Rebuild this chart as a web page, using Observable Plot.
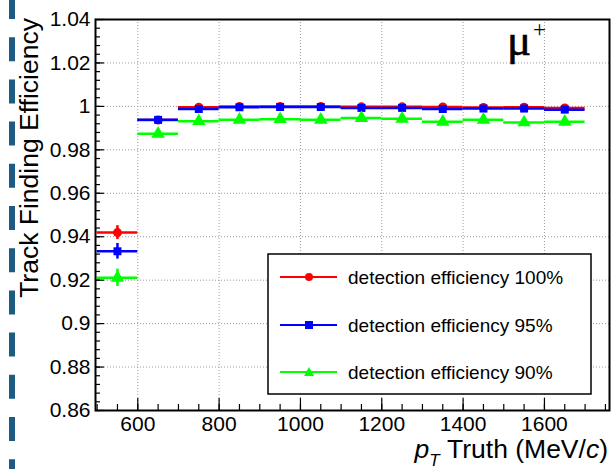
<!DOCTYPE html>
<html><head><meta charset="utf-8">
<script src="https://cdn.jsdelivr.net/npm/d3@7"></script>
<script src="https://cdn.jsdelivr.net/npm/@observablehq/plot@0.6"></script>
<style>
html,body{margin:0;padding:0;background:#fff;}
#wrap{position:relative;width:614px;height:469px;overflow:hidden;font-family:"Liberation Sans",Arial,sans-serif;color:#000;}
#wrap svg.ov{position:absolute;left:0;top:0;}
</style></head><body><div id="wrap"></div>
<script>
// ---- data ----
const binCenters = [550, 650, 750, 850, 950, 1050, 1150, 1250, 1350, 1450, 1550, 1650];
const binHalfWidth = 50;
const eff100 = [0.9419, 0.9937, 0.9996, 0.9999, 1.0000, 0.9999, 0.9998, 0.9998, 0.9997, 0.9995, 0.9996, 0.9993];
const err100 = [0.0032, 0.0008, 0.0003, 0.0003, 0.0002, 0.0002, 0.0002, 0.0002, 0.0003, 0.0003, 0.0003, 0.0003];
const eff95  = [0.9333, 0.9938, 0.9988, 0.9996, 0.9997, 0.9997, 0.9993, 0.9993, 0.9988, 0.9990, 0.9990, 0.9985];
const err95  = [0.0036, 0.0008, 0.0004, 0.0003, 0.0003, 0.0003, 0.0003, 0.0003, 0.0004, 0.0004, 0.0004, 0.0004];
const eff90  = [0.9211, 0.9874, 0.9932, 0.9938, 0.9941, 0.9938, 0.9946, 0.9943, 0.9929, 0.9938, 0.9926, 0.9929];
const err90  = [0.0040, 0.0010, 0.0007, 0.0007, 0.0006, 0.0006, 0.0006, 0.0006, 0.0007, 0.0007, 0.0007, 0.0007];
const seriesNames = ["detection efficiency 100%", "detection efficiency 95%", "detection efficiency 90%"];
const seriesColors = ["#ff0000", "#0000ff", "#00ff00"];
const seriesSymbols = ["circle", "square", "triangle"];
const xDomain = [496, 1760];
const yDomain = [0.86, 1.04];
const xMajorTicks = [600, 800, 1000, 1200, 1400, 1600];
const xTickLabels = ["600", "800", "1000", "1200", "1400", "1600"];
const xMinorTicks = d3.range(500, 1751, 50);
const yMajorTicks = [0.86, 0.88, 0.90, 0.92, 0.94, 0.96, 0.98, 1.00, 1.02, 1.04];
const yTickLabels = ["0.86", "0.88", "0.9", "0.92", "0.94", "0.96", "0.98", "1", "1.02", "1.04"];
const yMinorTicks = d3.range(0, 46).map(i => 0.86 + i * 0.004);
const yTitle = "Track Finding Efficiency";

// ---- table ----
const effs = [eff100, eff95, eff90], errs = [err100, err95, err90];
const series = seriesNames.map((name, s) => binCenters.map((x, i) => ({x, y: effs[s][i], e: errs[s][i], name})));

const marks = [
  Plot.gridY(yMajorTicks, {stroke: "#9a9a9a", strokeOpacity: 1, strokeDasharray: "1,2", strokeWidth: 1}),
  Plot.gridX(xMajorTicks, {stroke: "#9a9a9a", strokeOpacity: 1, strokeDasharray: "1,2", strokeWidth: 1})
];
series.forEach((rows, s) => {
  const c = seriesColors[s];
  marks.push(
    Plot.ruleY(rows, {y: "y", x1: d => d.x - binHalfWidth, x2: d => d.x + binHalfWidth, stroke: c, strokeWidth: 2.5}),
    Plot.ruleX(rows, {x: "x", y1: d => d.y - d.e, y2: d => d.y + d.e, stroke: c, strokeWidth: 2.5}),
    Plot.dot(rows, {x: "x", y: "y", symbol: seriesSymbols[s], fill: c, stroke: "none", r: s === 2 ? 5 : 4.5})
  );
});
marks.push(
  Plot.axisY(yMinorTicks, {anchor: "left", tickSize: -5, fill: "none", stroke: "black", strokeWidth: 1.2}),
  Plot.axisY(yMajorTicks, {anchor: "left", tickSize: -9, fill: "none", stroke: "black", strokeWidth: 1.2}),
  Plot.axisY(yMajorTicks, {anchor: "left", tickSize: 0, tickPadding: 5, label: null, tickFormat: (d, i) => yTickLabels[i]}),
  Plot.axisX(xMinorTicks, {anchor: "bottom", tickSize: -6, fill: "none", stroke: "black", strokeWidth: 1.2}),
  Plot.axisX(xMajorTicks, {anchor: "bottom", tickSize: -12, fill: "none", stroke: "black", strokeWidth: 1.2}),
  Plot.axisX(xMajorTicks, {anchor: "bottom", tickSize: 0, tickPadding: 6, label: null, tickFormat: (d, i) => xTickLabels[i]}),
  Plot.frame({stroke: "black", strokeWidth: 2})
);

const chart = Plot.plot({
  width: 614, height: 469,
  marginLeft: 95, marginRight: 5, marginTop: 19, marginBottom: 59,
  x: {domain: xDomain},
  y: {domain: yDomain},
  style: {fontFamily: "Liberation Sans, Arial, sans-serif", fontSize: "21px", color: "black", background: "transparent"},
  marks
});
const wrap = document.getElementById("wrap");
wrap.appendChild(chart);
chart.style.position = "absolute"; chart.style.left = "0"; chart.style.top = "0";

// ---- decorations & labels ----
const NS = "http://www.w3.org/2000/svg";
const ov = document.createElementNS(NS, "svg");
ov.setAttribute("class", "ov"); ov.setAttribute("width", 614); ov.setAttribute("height", 469);
const F = 'font-family="Liberation Sans, Arial, sans-serif"';
let html = `
<line x1="12" y1="-5" x2="12" y2="480" stroke="#1d5b83" stroke-width="6" stroke-dasharray="24 18.2"/>
<text x="507" y="55" font-family="Liberation Serif, DejaVu Serif, serif" font-size="45" stroke="black" stroke-width="0.6">μ</text>
<text x="533" y="37" font-family="Liberation Serif, DejaVu Serif, serif" font-size="23">+</text>
<text transform="translate(38,18) rotate(-90)" text-anchor="end" ${F} font-size="26.5">${yTitle}</text>
<text x="608" y="458" text-anchor="end" ${F} font-size="26.5"><tspan font-style="italic">p</tspan><tspan font-style="italic" font-size="17" dy="8">T</tspan><tspan dy="-8">&#160;Truth (MeV/</tspan><tspan font-style="italic">c</tspan><tspan>)</tspan></text>
<rect x="268" y="254" width="323" height="140" fill="white" stroke="black" stroke-width="1.5"/>
`;
const rowY = [277, 325, 372];
seriesNames.forEach((name, s) => {
  const y = rowY[s], c = seriesColors[s];
  html += `<line x1="280" x2="337" y1="${y}" y2="${y}" stroke="${c}" stroke-width="2"/>`;
  if (s === 0) html += `<circle cx="309" cy="${y}" r="4" fill="${c}"/>`;
  else if (s === 1) html += `<rect x="305" y="${y-4}" width="8" height="8" fill="${c}"/>`;
  else html += `<path d="M309,${y-5}L314,${y+4}L304,${y+4}Z" fill="${c}"/>`;
  html += `<text x="348" y="${y+6.5}" ${F} font-size="19">${name}</text>`;
});
ov.innerHTML = html;
wrap.appendChild(ov);
</script>
</body></html>
